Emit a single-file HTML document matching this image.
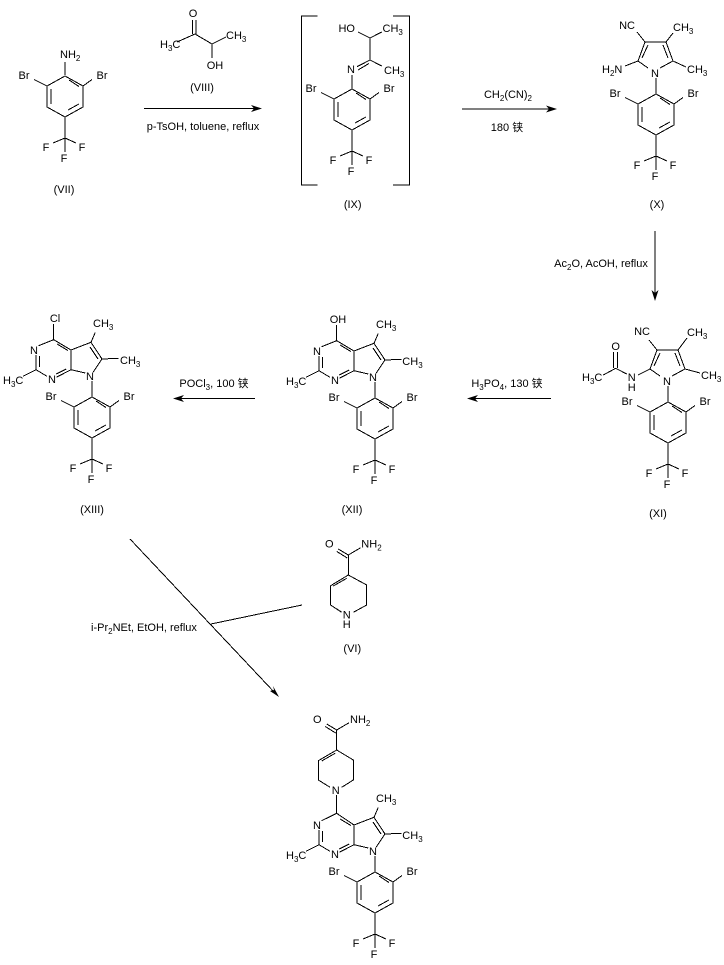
<!DOCTYPE html>
<html><head><meta charset="utf-8"><style>
html,body{margin:0;padding:0;background:#fff;width:724px;height:965px;overflow:hidden}
svg{display:block}
text{font-family:"Liberation Sans","Noto Sans CJK SC",sans-serif;font-size:11px;fill:#000}
.m{text-anchor:middle}
path.l{fill:none;stroke:#000;stroke-width:1;shape-rendering:crispEdges}
path.a{fill:#000;stroke:none}
tspan.s{font-size:8px}
</style></head><body>
<svg width="724" height="965" viewBox="0 0 724 965" xmlns="http://www.w3.org/2000/svg">

<!-- VII -->
<g transform="translate(65,76)">
<path class="l" d="M0 0L18 10V31L0 41L-18 31V10ZM-14 13V28M4 4L14 10.500M3 34L14 28M-18 10L-31 3.500M18 10L27 3.500M0 41V76M0 62L-12 67M0 62L11 67M0-1V-14"/>
<text class="m" x="-41" y="3">Br</text><text class="m" x="37" y="3">Br</text>
<text class="m" x="-19" y="75">F</text><text class="m" x="17" y="75">F</text><text class="m" x="-1" y="86">F</text>
<text x="-5" y="-18">NH<tspan class="s" dy="3">2</tspan></text>
</g>
<text class="m" x="64" y="193">(VII)</text>

<!-- VIII -->
<path class="l" d="M192.500 34V20M196 34V20M195 34L177 42M195 34L212 44L226 37M212 44V58"/>
<text class="m" x="193" y="17">O</text>
<text x="160" y="48">H<tspan class="s" dy="3">3</tspan><tspan dy="-3">C</tspan></text>
<text x="226" y="39">CH<tspan class="s" dy="3">3</tspan></text>
<text class="m" x="215" y="69">OH</text>
<text class="m" x="202" y="91">(VIII)</text>

<!-- arrow 1 -->
<path class="l" d="M144 108.500H258"/><path class="a" d="M262 108.500L251 105L254 108.500L251 112Z"/>
<text class="m" x="203" y="130">p-TsOH, toluene, reflux</text>

<!-- IX -->
<path class="l" d="M317.500 16H301.500V185H317.500M393 16H409.500V185H393"/>
<path class="l" d="M358 32L370 38L381.700 32M370 38V60L381.700 66M370 60L357 66.700M369 63.500L358 70M352 75V89"/>
<text class="m" x="346.700" y="32">HO</text>
<text x="382.500" y="32">CH<tspan class="s" dy="3">3</tspan></text>
<text x="384" y="74">CH<tspan class="s" dy="3">3</tspan></text>
<text class="m" x="351" y="73">N</text>
<g transform="translate(352,89)">
<path class="l" d="M0 0L18 10V31L0 41L-18 31V10ZM-14 13V28M4 4L14 10.500M3 34L14 28M-18 10L-31 3.500M18 10L27 3.500M0 41V76M0 62L-12 67M0 62L11 67"/>
<text class="m" x="-41" y="3">Br</text><text class="m" x="37" y="3">Br</text>
<text class="m" x="-19" y="75">F</text><text class="m" x="17" y="75">F</text><text class="m" x="-1" y="86">F</text>
</g>
<text class="m" x="352.700" y="208">(IX)</text>

<!-- arrow 2 -->
<path class="l" d="M462 109H553"/><path class="a" d="M557 109L546 105.500L549 109L546 112.500Z"/>
<text class="m" x="508" y="98">CH<tspan class="s" dy="3">2</tspan><tspan dy="-3">(CN)</tspan><tspan class="s" dy="3">2</tspan></text>
<text class="m" x="507" y="131">180 铗</text>

<!-- X -->
<g transform="translate(656,94)">
<path class="l" d="M-8 -26L-18 -33L-11 -52H10L17 -33L4 -26M-14 -36L-8 -49M7 -49L12 -36M-11 -52L-19 -62M10 -52L17 -61M-18 -33L-31 -28M17 -33L30 -27M0 -16V0"/>
<text class="m" x="-1" y="-17">N</text>
<text class="m" x="-29" y="-65">NC</text>
<text x="17" y="-63">CH<tspan class="s" dy="3">3</tspan></text>
<text x="-54" y="-21">H<tspan class="s" dy="3">2</tspan><tspan dy="-3">N</tspan></text>
<text x="31" y="-21">CH<tspan class="s" dy="3">3</tspan></text>
<path class="l" d="M0 0L18 10V31L0 41L-18 31V10ZM-14 13V28M4 4L14 10.500M3 34L14 28M-18 10L-31 3.500M18 10L27 3.500M0 41V76M0 62L-12 67M0 62L11 67"/>
<text class="m" x="-41" y="3">Br</text><text class="m" x="37" y="3">Br</text>
<text class="m" x="-19" y="75">F</text><text class="m" x="17" y="75">F</text><text class="m" x="-1" y="86">F</text>
</g>
<text class="m" x="657" y="208">(X)</text>

<!-- arrow 3 -->
<path class="l" d="M655 231V296"/><path class="a" d="M655 301L651.500 290L655 293L658.500 290Z"/>
<text class="m" x="601" y="267">Ac<tspan class="s" dy="3">2</tspan><tspan dy="-3">O, AcOH, reflux</tspan></text>

<!-- XI -->
<g transform="translate(668,402)">
<path class="l" d="M-8 -26L-18 -33L-11 -52H10L17 -33L4 -26M-14 -36L-8 -49M7 -49L12 -36M-11 -52L-19 -62M10 -52L19 -64M-18 -33L-30 -27M17 -33L32 -29M0 -16V0"/>
<text class="m" x="-1" y="-17">N</text>
<text class="m" x="-26" y="-67">NC</text>
<text x="19" y="-66">CH<tspan class="s" dy="3">3</tspan></text>
<text x="33" y="-23">CH<tspan class="s" dy="3">3</tspan></text>
<path class="l" d="M0 0L18 10V31L0 41L-18 31V10ZM-14 13V28M4 4L14 10.500M3 34L14 28M-18 10L-31 3.500M18 10L27 3.500M0 41V76M0 62L-12 67M0 62L11 67"/>
<text class="m" x="-41" y="3">Br</text><text class="m" x="37" y="3">Br</text>
<text class="m" x="-19" y="75">F</text><text class="m" x="17" y="75">F</text><text class="m" x="-1" y="86">F</text>
</g>
<path class="l" d="M626.700 374L615.700 368.300L603.300 375M613.500 368V352M617.500 368V352"/>
<text class="m" x="615.700" y="350">O</text>
<text class="m" x="631.700" y="381">N</text><text class="m" x="631.700" y="391">H</text>
<text x="582" y="381">H<tspan class="s" dy="3">3</tspan><tspan dy="-3">C</tspan></text>
<text class="m" x="658" y="517">(XI)</text>

<!-- arrow 4 -->
<path class="l" d="M551 398.500H471"/><path class="a" d="M467 398.500L478 395L475 398.500L478 402Z"/>
<text class="m" x="507" y="387">H<tspan class="s" dy="3">3</tspan><tspan dy="-3">PO</tspan><tspan class="s" dy="3">4</tspan><tspan dy="-3">, 130 铗</tspan></text>

<!-- XII -->
<g transform="translate(375,398)">
<path class="l" d="M-21 -27.300V-47L-38.300 -57.300L-53.300 -51.300M-35 -53L-24 -46.500M-21 -47L-1 -54.700L10 -38L1 -24.700M-2 -50L6 -38M-6.700 -24L-21 -27.300L-35.700 -19.700M-25.700 -28L-35.700 -23M-56 -42V-27.300L-45 -20.700M-52.700 -41V-30M-56 -27.300L-69 -20.700M-38.300 -57.300V-73M-1 -54.700L3.300 -64.700M10 -38L26.700 -38.700M0 -16V0"/>
<text class="m" x="-2" y="-17">N</text><text class="m" x="-58" y="-43">N</text><text class="m" x="-40" y="-14">N</text>
<text x="-89" y="-13">H<tspan class="s" dy="3">3</tspan><tspan dy="-3">C</tspan></text>
<text class="m" x="-37" y="-75">OH</text>
<text x="1" y="-70">CH<tspan class="s" dy="3">3</tspan></text>
<text x="27.300" y="-33">CH<tspan class="s" dy="3">3</tspan></text>
<path class="l" d="M0 0L18 10V31L0 41L-18 31V10ZM-14 13V28M4 4L14 10.500M3 34L14 28M-18 10L-31 3.500M18 10L27 3.500M0 41V76M0 62L-12 67M0 62L11 67"/>
<text class="m" x="-41" y="3">Br</text><text class="m" x="37" y="3">Br</text>
<text class="m" x="-19" y="75">F</text><text class="m" x="17" y="75">F</text><text class="m" x="-1" y="86">F</text>
</g>
<text class="m" x="352" y="513">(XII)</text>

<!-- arrow 5 -->
<path class="l" d="M255 398.500H177"/><path class="a" d="M173 398.500L184 395L181 398.500L184 402Z"/>
<text class="m" x="214" y="387">POCl<tspan class="s" dy="3">3</tspan><tspan dy="-3">, 100 铗</tspan></text>

<!-- XIII -->
<g transform="translate(92,397)">
<path class="l" d="M-21 -27.300V-47L-38.300 -57.300L-53.300 -51.300M-35 -53L-24 -46.500M-21 -47L-1 -54.700L10 -38L1 -24.700M-2 -50L6 -38M-6.700 -24L-21 -27.300L-35.700 -19.700M-25.700 -28L-35.700 -23M-56 -42V-27.300L-45 -20.700M-52.700 -41V-30M-56 -27.300L-69 -20.700M-38.300 -57.300V-73M-1 -54.700L3.300 -64.700M10 -38L26.700 -38.700M0 -16V0"/>
<text class="m" x="-2" y="-17">N</text><text class="m" x="-58" y="-43">N</text><text class="m" x="-40" y="-14">N</text>
<text x="-89" y="-13">H<tspan class="s" dy="3">3</tspan><tspan dy="-3">C</tspan></text>
<text class="m" x="-37" y="-75">Cl</text>
<text x="1" y="-70">CH<tspan class="s" dy="3">3</tspan></text>
<text x="28" y="-33">CH<tspan class="s" dy="3">3</tspan></text>
<path class="l" d="M0 0L18 10V31L0 41L-18 31V10ZM-14 13V28M4 4L14 10.500M3 34L14 28M-18 10L-31 3.500M18 10L27 3.500M0 41V76M0 62L-12 67M0 62L11 67"/>
<text class="m" x="-41" y="3">Br</text><text class="m" x="37" y="3">Br</text>
<text class="m" x="-19" y="75">F</text><text class="m" x="17" y="75">F</text><text class="m" x="-1" y="86">F</text>
</g>
<text class="m" x="92" y="513">(XIII)</text>

<!-- arrow 6 -->
<path class="l" d="M130 539L275 693M211 624L302 605"/>
<path class="a" d="M279 697L270 691L274 690L273 686Z"/>
<text x="91" y="631">i-Pr<tspan class="s" dy="3">2</tspan><tspan dy="-3">NEt, EtOH, reflux</tspan></text>

<!-- VI -->
<g transform="translate(348.300,575)">
<path class="l" d="M-6.600 37.300L-17.600 30V10.700L0 0L18.400 10V30L5 37.300M-15 11L-1.600 3.300M0 0V-20L-10 -26M-1 -17L-11.500 -23.500M0 -20L12.400 -27.300"/>
<text class="m" x="-1.600" y="43.300">N</text>
<text class="m" x="-19" y="-27.700">O</text>
<text x="13" y="-27.700">NH<tspan class="s" dy="3">2</tspan></text>
</g>
<text class="m" x="346.700" y="628">H</text>
<text class="m" x="352.300" y="652">(VI)</text>

<!-- Final -->
<g transform="translate(336.700,750)">
<path class="l" d="M-6.600 37.300L-18.400 30V10.700L0 0L16.600 10V30L5 37.300M-15 11L-1.600 3.300M0 0V-20L-10 -26M-1 -17L-11.500 -23.500M0 -20L12.400 -27.300M0 45V63"/>
<text class="m" x="-1" y="44">N</text>
<text class="m" x="-19.400" y="-27">O</text>
<text x="13.300" y="-27">NH<tspan class="s" dy="3">2</tspan></text>
</g>
<g transform="translate(375,872)">
<path class="l" d="M-21 -27.300V-47L-38.300 -58.700L-53.300 -51.300M-35 -53L-24 -46.500M-21 -47L-1 -54.700L10 -38L1 -24.700M-2 -50L6 -38M-6.700 -24L-21 -27.300L-35.700 -19.700M-25.700 -28L-35.700 -23M-56 -42V-27.300L-45 -20.700M-52.700 -41V-30M-56 -27.300L-69 -20.700M-1 -54.700L3.300 -64.700M10 -38L26.700 -38.700M0 -16V0"/>
<text class="m" x="-2" y="-17">N</text><text class="m" x="-58" y="-43">N</text><text class="m" x="-40" y="-14">N</text>
<text x="-89" y="-13">H<tspan class="s" dy="3">3</tspan><tspan dy="-3">C</tspan></text>
<text x="1" y="-70">CH<tspan class="s" dy="3">3</tspan></text>
<text x="27.300" y="-33">CH<tspan class="s" dy="3">3</tspan></text>
<path class="l" d="M0 0L18 10V31L0 41L-18 31V10ZM-14 13V28M4 4L14 10.500M3 34L14 28M-18 10L-31 3.500M18 10L27 3.500M0 41V76M0 62L-12 67M0 62L11 67"/>
<text class="m" x="-41" y="3">Br</text><text class="m" x="37" y="3">Br</text>
<text class="m" x="-19" y="75">F</text><text class="m" x="17" y="75">F</text><text class="m" x="-1" y="86">F</text>
</g>
</svg>
</body></html>
